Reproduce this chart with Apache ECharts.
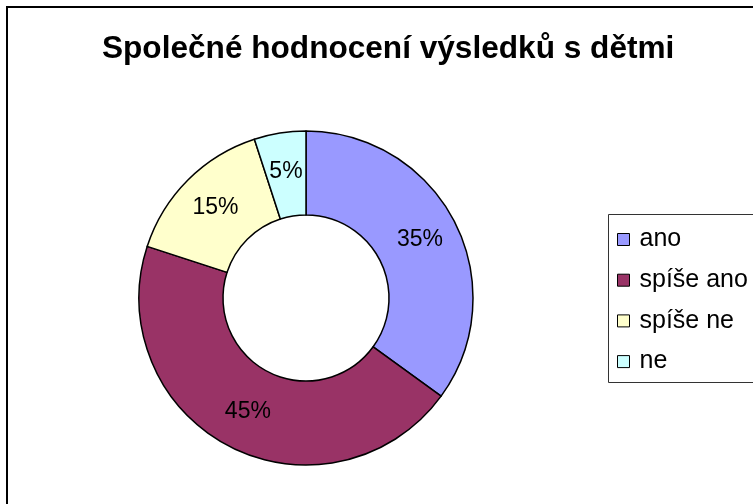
<!DOCTYPE html>
<html><head><meta charset="utf-8">
<script src="https://cdn.jsdelivr.net/npm/echarts@6/dist/echarts.min.js"></script>
<style>html,body{margin:0;padding:0;background:#fff}#c{width:753px;height:504px}</style>
</head><body><div id="c"></div>
<script>
const titleText = 'Společné hodnocení výsledků s dětmi';
const categories = ['ano', 'spíše ano', 'spíše ne', 'ne'];
const values = [35, 45, 15, 5];
const colors = ['#9999FF', '#993366', '#FFFFCC', '#CCFFFF'];

const chart = echarts.init(document.getElementById('c'), null, {renderer: 'canvas'});
const FONT = 'Liberation Sans, Arial, sans-serif';
chart.setOption({
  animation: false,
  backgroundColor: '#fff',
  title: {
    text: titleText,
    left: 97, top: 28,
    textStyle: {fontFamily: FONT, fontWeight: 'bold', fontSize: 31.6, color: '#000'}
  },
  graphic: [
    {type: 'rect', shape: {x: 7, y: 7, width: 800, height: 600}, style: {fill: 'none', stroke: '#000', lineWidth: 2}, silent: true},
    {type: 'rect', shape: {x: 608.5, y: 214.5, width: 200, height: 168}, style: {fill: 'none', stroke: '#333', lineWidth: 1}, silent: true}
  ],
  legend: {
    orient: 'vertical', left: 617, top: 227,
    padding: 0,
    itemWidth: 12, itemHeight: 12, itemGap: 15.7,
    icon: 'rect',
    itemStyle: {borderColor: '#000', borderWidth: 1},
    textStyle: {fontFamily: FONT, fontSize: 25, lineHeight: 25, color: '#000', padding: [0, 0, 0, 5]},
    data: categories
  },
  series: [{
    type: 'pie',
    center: [306, 298],
    radius: [83, 167],
    startAngle: 90,
    clockwise: true,
    avoidLabelOverlap: false,
    percentPrecision: 0,
    itemStyle: {borderColor: '#000', borderWidth: 1.5},
    label: {show: true, position: 'inside', formatter: '{d}%', fontFamily: FONT, fontSize: 23, color: '#000'},
    labelLine: {show: false},
    emphasis: {disabled: true},
    data: categories.map((c, i) => ({name: c, value: values[i], itemStyle: {color: colors[i]}}))
  }]
});
</script></body></html>
